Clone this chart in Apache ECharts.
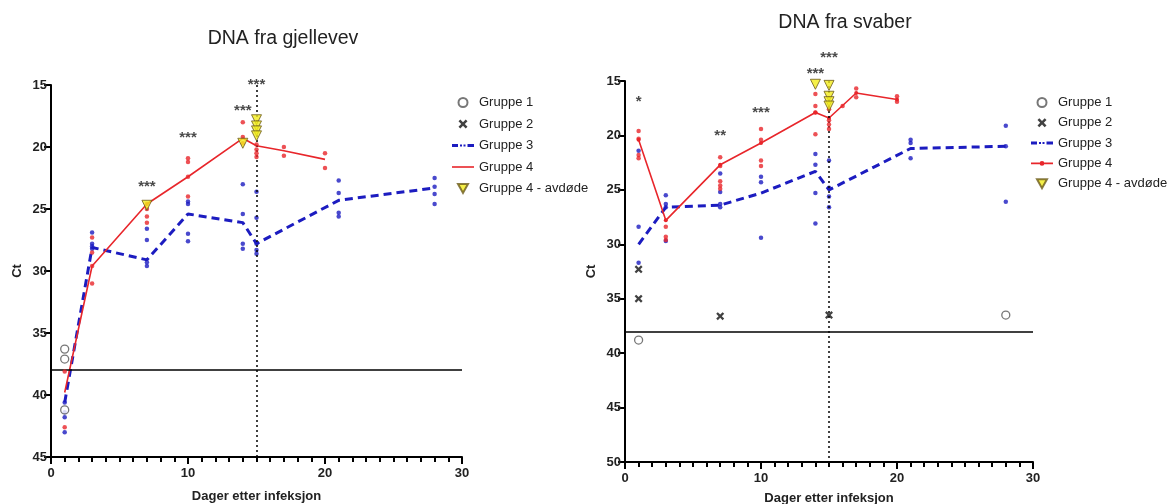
<!DOCTYPE html>
<html><head><meta charset="utf-8">
<script src="https://cdn.jsdelivr.net/npm/echarts@6/dist/echarts.min.js"></script>
<style>html,body{margin:0;padding:0;background:#fff}#c{width:1169px;height:504px}</style>
</head><body><div id="c"></div><script>
// ---------- DATA: DNA fra gjellevev (left) ----------
const gillG1 = [[1,36.3],[1,37.1],[1,41.2]];
const gillG3Dots = [[1,40.6],[1,41.4],[1,41.8],[1,43.0],[3,26.9],[3,27.8],[3,28.0],[3,28.2],[7,26.6],[7,27.5],[7,29.3],[7,29.6],[10,24.4],[10,24.6],[10,27.0],[10,27.6],[14,23.0],[14,25.4],[14,27.8],[14,28.2],[15,23.6],[15,25.7],[15,27.8],[15,28.3],[15,28.6],[21,22.7],[21,23.7],[21,25.3],[21,25.6],[28,22.5],[28,23.2],[28,23.8],[28,24.6]];
const gillG3Mean = [[1,40.6],[3,28.1],[7,29.1],[10,25.4],[14,26.1],[15,27.8],[21,24.3],[28,23.3]];
const gillG4Dots = [[1,38.1],[1,42.6],[3,27.3],[3,28.5],[3,29.6],[3,31.0],[7,24.6],[7,25.0],[7,25.6],[7,26.1],[10,20.9],[10,21.2],[10,22.4],[10,24.0],[14,18.0],[14,19.2],[14,19.7],[15,19.8],[15,20.2],[15,20.5],[15,20.8],[17,20.0],[17,20.7],[20,20.5],[20,21.7]];
const gillG4Mean = [[1,39.8],[3,29.6],[7,24.6],[10,22.4],[14,19.3],[15,19.9],[17,20.3],[20,21.0]];
const gillG4Dead = [[7,24.7],[14,19.7],[15,17.8],[15,18.3],[15,18.7],[15,19.1]];
const gillStarX = [7,10,14,15];
const gillStarY = [23.2,19.3,17.1,15.0];
const gillStarText = ['***','***','***','***'];

// ---------- DATA: DNA fra svaber (right) ----------
const swabG1 = [[1,38.8],[28,36.5]];
const swabG2 = [[1,32.3],[1,35.0],[7,36.6],[15,36.5]];
const swabG3Dots = [[1,21.4],[1,28.4],[1,31.7],[3,25.5],[3,26.3],[3,26.6],[3,29.7],[7,23.5],[7,25.2],[7,26.3],[7,26.6],[10,23.8],[10,24.3],[10,29.4],[14,21.7],[14,22.7],[14,25.3],[14,28.1],[15,22.3],[15,24.8],[15,25.6],[15,26.6],[21,20.4],[21,20.7],[21,22.1],[28,19.1],[28,21.0],[28,26.1]];
const swabG3Mean = [[1,30.0],[3,26.6],[7,26.4],[10,25.3],[14,23.3],[15,25.0],[21,21.2],[28,21.0]];
const swabG4Dots = [[1,19.6],[1,20.3],[1,21.8],[1,22.1],[3,28.4],[3,29.3],[3,29.6],[7,22.0],[7,22.8],[7,24.2],[7,24.6],[7,24.9],[10,19.4],[10,20.4],[10,22.3],[10,22.8],[14,16.2],[14,17.3],[14,17.9],[14,19.9],[15,17.6],[15,18.6],[15,19.0],[15,19.4],[16,17.3],[17,15.7],[17,16.5],[20,16.4],[20,16.9]];
const swabG4Mean = [[1,20.4],[3,27.8],[7,22.7],[10,20.7],[14,17.9],[15,18.4],[17,16.1],[20,16.7]];
const swabG4Dead = [[14,15.3],[15,15.4],[15,16.4],[15,16.9],[15,17.3]];
const swabStarX = [1,7,10,14,15];
const swabStarY = [16.9,20.0,17.9,14.3,12.9];
const swabStarText = ['*','**','***','***','***'];

const legendNames = ['Gruppe 1','Gruppe 2','Gruppe 3','Gruppe 4','Gruppe 4 - avdøde'];
const threshold = 38;
const markDay = 15;

// ---------- STYLE ----------
const FONT = 'Liberation Sans, Arial, Helvetica, sans-serif';
const RED = '#e8262b', BLUE = '#1c1cc0', TXT = '#222';
const X_SYMBOL = 'path://M2,0L5,3L8,0L10,2L7,5L10,8L8,10L5,7L2,10L0,8L3,5L0,2Z';
const ICONS = {
  circle:'path://M10,5A5,5,0,1,1,0,5A5,5,0,1,1,10,5Z',
  cross:X_SYMBOL,
  dash:'path://M0,0h6v3h-6zM8,0.5h2v2h-2zM11.5,0.5h2v2h-2zM15.5,0h6.5v3h-6.5z',
  line:'path://M0,0h22v1.6h-22z',
  lineDot:'path://M0,2h22v1.6h-22zM13.4,2.8A2.4,2.4,0,1,1,8.6,2.8A2.4,2.4,0,1,1,13.4,2.8Z',
  tri:'path://M0,0L10,0L5,9Z'
};

function xAxisFor(gi){
  return {gridIndex:gi,type:'value',min:0,max:30,interval:10,
    axisLine:{show:true,onZero:false,lineStyle:{color:'#000',width:2}},
    axisTick:{show:true,length:7,lineStyle:{color:'#000',width:2}},
    minorTick:{show:true,splitNumber:10,length:5,lineStyle:{color:'#000',width:2}},
    splitLine:{show:false},
    axisLabel:{color:TXT,fontWeight:'bold',fontSize:13,fontFamily:FONT,margin:10},
    name:'Dager etter infeksjon',nameLocation:'middle',nameGap:gi===0?33:30,
    nameTextStyle:{color:TXT,fontWeight:'bold',fontSize:13,fontFamily:FONT}};
}
function yAxisFor(gi,max){
  return {gridIndex:gi,type:'value',inverse:true,min:15,max:max,interval:5,
    axisLine:{show:true,onZero:false,lineStyle:{color:'#000',width:2}},
    axisTick:{show:true,length:7,lineStyle:{color:'#000',width:2}},
    splitLine:{show:false},
    axisLabel:{color:TXT,fontWeight:'bold',fontSize:13,fontFamily:FONT,margin:4},
    name:'Ct',nameLocation:'middle',nameGap:27,nameRotate:90,
    nameTextStyle:{color:TXT,fontWeight:'bold',fontSize:13,fontFamily:FONT}};
}
function starsData(xs,ys,ts){
  return xs.map((x,i)=>({value:[x,ys[i]],label:{formatter:ts[i]}}));
}
function seriesFor(gi,sfx,d){
  const s = [];
  s.push({name:'Gruppe 1'+sfx,type:'scatter',xAxisIndex:gi,yAxisIndex:gi,data:d.g1||[],symbol:'circle',symbolSize:8,
    itemStyle:{color:'#fff',borderColor:'#555',borderWidth:1.3},z:6});
  s.push({name:'Gruppe 2'+sfx,type:'scatter',xAxisIndex:gi,yAxisIndex:gi,data:d.g2||[],symbol:X_SYMBOL,symbolSize:8,
    itemStyle:{color:'#111'},z:6});
  s.push({name:'Gruppe 3'+sfx,type:'line',xAxisIndex:gi,yAxisIndex:gi,data:d.g3m,symbol:'none',
    lineStyle:{color:BLUE,width:3,type:[8,5]},itemStyle:{color:BLUE},z:2});
  s.push({name:'g3dots'+sfx,type:'scatter',xAxisIndex:gi,yAxisIndex:gi,data:d.g3d,symbol:'circle',symbolSize:4.5,
    itemStyle:{color:BLUE},z:3,
    markLine:{silent:true,symbol:'none',label:{show:false},animation:false,
      data:[{yAxis:threshold,lineStyle:{type:'solid',width:1.5,color:'#000'}},
            {xAxis:markDay,lineStyle:{type:[2,3],width:1.5,color:'#000'}}]}});
  s.push({name:'Gruppe 4'+sfx,type:'line',xAxisIndex:gi,yAxisIndex:gi,data:d.g4m,
    symbol:d.redSym?'circle':'none',symbolSize:4,showSymbol:!!d.redSym,
    lineStyle:{color:RED,width:1.6},itemStyle:{color:RED},z:4});
  s.push({name:'g4dots'+sfx,type:'scatter',xAxisIndex:gi,yAxisIndex:gi,data:d.g4d,symbol:'circle',symbolSize:4.5,
    itemStyle:{color:RED},z:5});
  s.push({name:'Gruppe 4 - avdøde'+sfx,type:'scatter',xAxisIndex:gi,yAxisIndex:gi,data:d.dead,symbol:'triangle',symbolRotate:180,symbolSize:10,
    itemStyle:{color:'#f2ec1c',borderColor:'#6b5a1a',borderWidth:1},z:7});
  s.push({name:'stars'+sfx,type:'scatter',xAxisIndex:gi,yAxisIndex:gi,data:d.stars,symbol:'rect',symbolSize:1,clip:false,silent:true,
    itemStyle:{color:'rgba(0,0,0,0)'},
    label:{show:true,position:'inside',color:'#1a1a1a',fontSize:15,fontWeight:'bold',fontFamily:FONT},z:8});
  return s;
}
function legendData(sfx,redIcon){
  const icons = [ICONS.circle,ICONS.cross,ICONS.dash,redIcon,ICONS.tri];
  return legendNames.map((n,i)=>({name:n+sfx,icon:icons[i],symbolRotate:0}));
}

const chart = echarts.init(document.getElementById('c'));
const series = [].concat(
  seriesFor(0,'',{g1:gillG1,g3d:gillG3Dots,g3m:gillG3Mean,g4d:gillG4Dots,g4m:gillG4Mean,dead:gillG4Dead,
    stars:starsData(gillStarX,gillStarY,gillStarText),redSym:false}),
  seriesFor(1,' (svaber)',{g1:swabG1,g2:swabG2,g3d:swabG3Dots,g3m:swabG3Mean,g4d:swabG4Dots,g4m:swabG4Mean,dead:swabG4Dead,
    stars:starsData(swabStarX,swabStarY,swabStarText),redSym:true})
);
const legendCommon = {orient:'vertical',itemWidth:22,itemHeight:9,symbolKeepAspect:true,symbolRotate:0,
  textStyle:{fontSize:13,color:TXT,fontFamily:FONT},formatter:n=>n.replace(' (svaber)',''),selectedMode:false};
chart.setOption({
  animation:false,
  backgroundColor:'#fff',
  title:[
    {text:'DNA fra gjellevev',left:278,top:24,textAlign:'center',textStyle:{fontSize:19.5,fontWeight:'normal',color:TXT,fontFamily:FONT}},
    {text:'DNA fra svaber',left:840,top:8,textAlign:'center',textStyle:{fontSize:19.5,fontWeight:'normal',color:TXT,fontFamily:FONT}}
  ],
  legend:[
    Object.assign({data:legendData('',ICONS.line),left:447,top:91,itemGap:8.5},legendCommon),
    Object.assign({data:legendData(' (svaber)',ICONS.lineDot),left:1026,top:91,itemGap:7.3},legendCommon)
  ],
  grid:[
    {left:51,top:85,width:411,height:372,outerBoundsMode:'none',containLabel:false},
    {left:625,top:81,width:408,height:381,outerBoundsMode:'none',containLabel:false}
  ],
  xAxis:[xAxisFor(0),xAxisFor(1)],
  yAxis:[yAxisFor(0,45),yAxisFor(1,50)],
  series:series
});
</script></body></html>
